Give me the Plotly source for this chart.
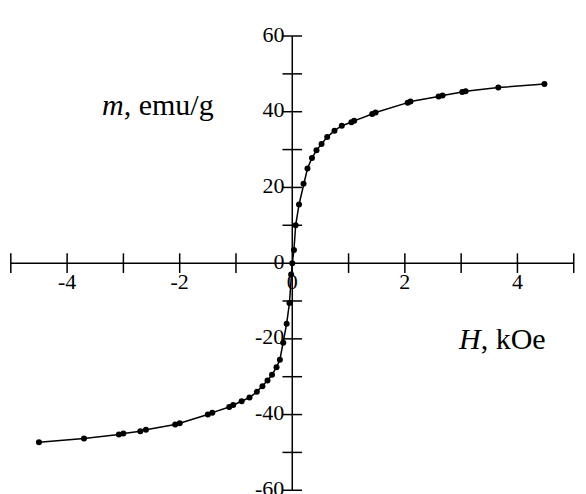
import plotly.graph_objects as go

# magnetization curve
H_pos = [0.0, 0.03, 0.06, 0.12, 0.2, 0.27, 0.35, 0.43, 0.52, 0.62, 0.75, 0.88, 1.05, 1.1, 1.42, 1.48, 2.05, 2.1, 2.6, 2.67, 3.02, 3.08, 3.66, 4.48]
m_pos = [0.0, 3.5, 10.0, 15.5, 21.0, 25.0, 27.8, 29.8, 31.5, 33.3, 35.0, 36.3, 37.2, 37.6, 39.4, 39.8, 42.4, 42.7, 44.0, 44.3, 45.2, 45.4, 46.4, 47.3]
H_neg = [-0.02, -0.05, -0.1, -0.16, -0.22, -0.28, -0.36, -0.44, -0.53, -0.63, -0.76, -0.9, -1.05, -1.12, -1.42, -1.5, -2.0, -2.08, -2.6, -2.7, -3.0, -3.08, -3.7, -4.5]
m_neg = [-3.0, -10.5, -16.0, -21.0, -25.5, -27.5, -29.5, -31.0, -32.5, -34.0, -35.5, -36.5, -37.5, -38.0, -39.5, -40.0, -42.3, -42.6, -44.0, -44.4, -45.0, -45.3, -46.3, -47.3]

x_ticks = [-5, -4, -3, -2, -1, 1, 2, 3, 4, 5]
x_labels = [-4, -2, 0, 2, 4]
y_ticks = [-60, -50, -40, -30, -20, -10, 10, 20, 30, 40, 50, 60]
y_labels = [-60, -40, -20, 0, 20, 40, 60]

H = H_neg[::-1] + H_pos
m = m_neg[::-1] + m_pos

font = "Liberation Serif"
fig = go.Figure()
# axes drawn as traces crossing at the origin
fig.add_trace(go.Scatter(x=[-5, 5], y=[0, 0], mode="lines", line=dict(color="black", width=1.5)))
fig.add_trace(go.Scatter(x=[0, 0], y=[-60, 60], mode="lines", line=dict(color="black", width=1.5)))
fig.add_trace(go.Scatter(x=x_ticks, y=[0] * len(x_ticks), mode="markers",
                         marker=dict(symbol="line-ns", size=14, line=dict(color="black", width=1.5))))
fig.add_trace(go.Scatter(x=[0] * len(y_ticks), y=y_ticks, mode="markers",
                         marker=dict(symbol="line-ew", size=14, line=dict(color="black", width=1.5))))
fig.add_trace(go.Scatter(x=x_labels, y=[-2.5] * len(x_labels), mode="text",
                         text=[str(v) for v in x_labels], textposition="bottom center",
                         textfont=dict(family=font, size=22, color="black")))
fig.add_trace(go.Scatter(x=[-0.14] * len(y_labels), y=y_labels, mode="text",
                         text=[str(v) for v in y_labels], textposition="middle left",
                         textfont=dict(family=font, size=22, color="black")))
fig.add_trace(go.Scatter(x=H, y=m, mode="lines+markers", line=dict(color="black", width=1.5),
                         marker=dict(color="black", size=6)))

fig.add_annotation(x=-2.38, y=42, text="<i>m</i>, emu/g", showarrow=False,
                   font=dict(family=font, size=30, color="black"))
fig.add_annotation(x=3.73, y=-20, text="<i>H</i>, kOe", showarrow=False,
                   font=dict(family=font, size=30, color="black"))

fig.update_layout(
    width=586, height=494, margin=dict(l=0, r=0, t=0, b=0),
    paper_bgcolor="white", plot_bgcolor="white", showlegend=False,
    xaxis=dict(range=[-5.05, 5.36], visible=False),
    yaxis=dict(range=[-63.1, 67.4], visible=False),
)
fig.write_html("out.html")
